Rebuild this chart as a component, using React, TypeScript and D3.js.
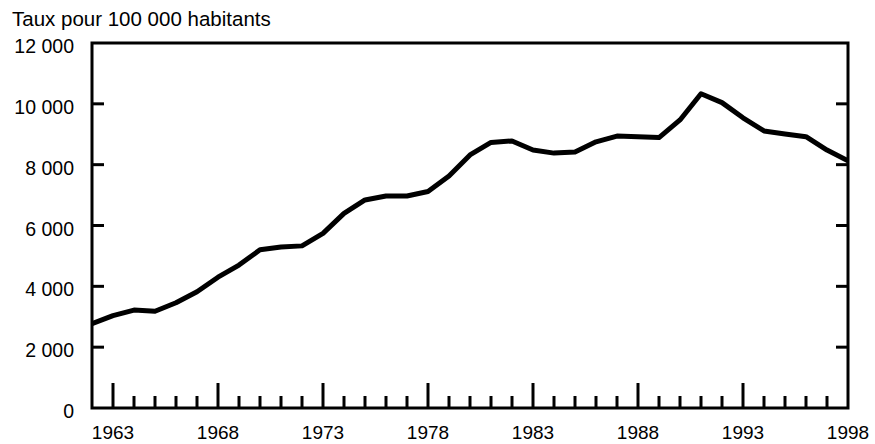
import { useMemo } from "react";
import * as d3 from "d3";

const years = d3.range(1962, 1999);
const rates = [
  2770, 3035, 3220, 3180, 3460, 3820, 4300, 4700, 5200, 5290,
  5330, 5740, 6400, 6840, 6970, 6970, 7120, 7630, 8320, 8730,
  8780, 8480, 8380, 8420, 8750, 8940, 8920, 8890, 9470, 10330,
  10040, 9540, 9110, 9010, 8920, 8480, 8130,
];
const yTicks = [0, 2000, 4000, 6000, 8000, 10000, 12000];
const yearLabels = [1963, 1968, 1973, 1978, 1983, 1988, 1993, 1998];

const title = "Taux pour 100 000 habitants";

const width = 875;
const height = 444;
const margin = { top: 43, right: 27, bottom: 36, left: 92 };

const fmt = (v: number) => d3.format(",")(v).replace(/,/g, " ");

const App = () => {
  const bottom = height - margin.bottom;
  const right = width - margin.right;

  const x = useMemo(
    () => d3.scaleLinear().domain([1962, 1998]).range([margin.left, right]),
    [right]
  );
  const y = useMemo(
    () => d3.scaleLinear().domain([0, 12000]).range([bottom, margin.top]),
    [bottom]
  );

  const line = d3
    .line<number>()
    .x((_, i) => x(years[i]))
    .y((d) => y(d));

  const minorYears = d3.range(1963, 1998);
  const innerY = yTicks.filter((t) => t > 0 && t < 12000);

  return (
    <svg
      width={width}
      height={height}
      viewBox={`0 0 ${width} ${height}`}
      style={{ position: "absolute", left: 0, top: 0, background: "#fff" }}
      fontFamily="'Liberation Sans', Arial, sans-serif"
      fontSize={19.5}
    >
      <defs>
        <clipPath id="plot-clip">
          <rect x={margin.left} y={margin.top} width={right - margin.left} height={bottom - margin.top} />
        </clipPath>
      </defs>
      <text x={12} y={26} fill="#000" fontSize={20.5}>{title}</text>

      <path
        d={line(rates) ?? ""}
        fill="none"
        stroke="#000"
        strokeWidth={5}
        strokeLinejoin="round"
        clipPath="url(#plot-clip)"
      />

      <g className="y-axis" stroke="#000" strokeWidth={3}>
        {innerY.map((t) => (
          <g key={t}>
            <line x1={margin.left} x2={margin.left + 12} y1={y(t)} y2={y(t)} />
            <line x1={right - 12} x2={right} y1={y(t)} y2={y(t)} />
          </g>
        ))}
      </g>
      <g className="y-labels" fill="#000">
        {yTicks.map((t) => (
          <text key={t} x={74} y={y(t) + 10} textAnchor="end">
            {fmt(t)}
          </text>
        ))}
      </g>

      <g className="x-axis" stroke="#000" strokeWidth={3}>
        {minorYears.map((yr) => (
          <line
            key={yr}
            x1={x(yr)}
            x2={x(yr)}
            y1={bottom}
            y2={bottom - (yearLabels.includes(yr) ? 25 : 12)}
          />
        ))}
      </g>
      <g className="x-labels" fill="#000">
        {yearLabels.map((yr) => (
          <text key={yr} x={x(yr)} y={bottom + 31} textAnchor="middle" fontSize={19}>
            {yr}
          </text>
        ))}
      </g>

      <rect
        x={margin.left}
        y={margin.top}
        width={right - margin.left}
        height={bottom - margin.top}
        fill="none"
        stroke="#000"
        strokeWidth={3}
      />
    </svg>
  );
};

export default App;
